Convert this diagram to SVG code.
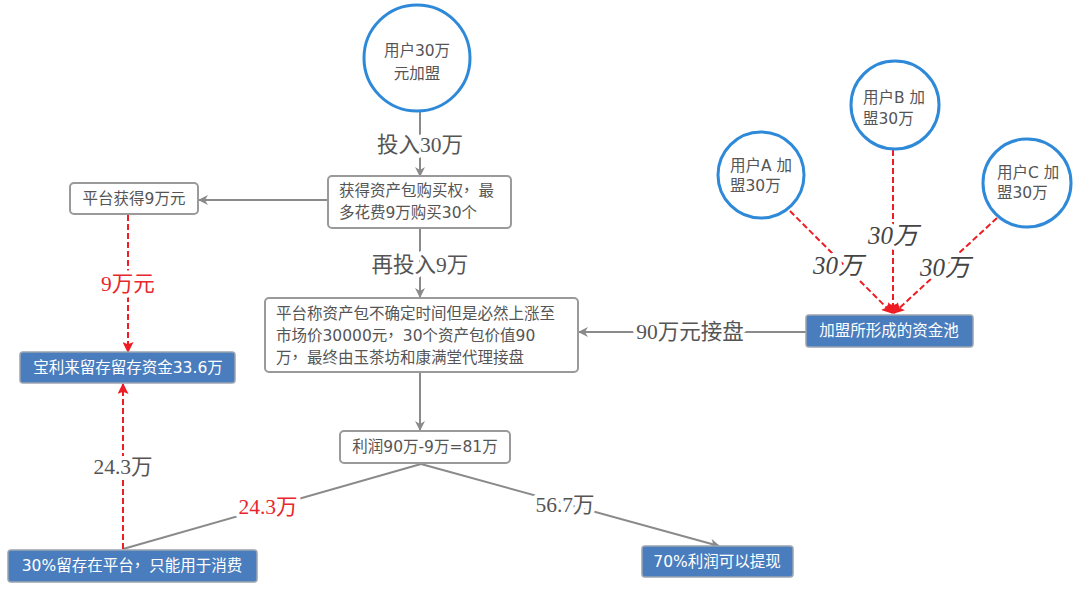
<svg xmlns="http://www.w3.org/2000/svg" width="1080" height="591" viewBox="0 0 1080 591">
<defs>
<marker id="ag" viewBox="0 0 10 10" refX="9" refY="5" markerWidth="10" markerHeight="10" markerUnits="userSpaceOnUse" orient="auto">
<path d="M0,0 L10,5 L0,10 L3,5 z" fill="#8a8a8a"/>
</marker>
<marker id="ar" viewBox="0 0 10 10" refX="9" refY="5" markerWidth="11" markerHeight="11" markerUnits="userSpaceOnUse" orient="auto">
<path d="M0,0 L10,5 L0,10 L2,5 z" fill="#ee1c24"/>
</marker>
</defs>
<style>
.c{fill:#fff;stroke:#2e8ad8;stroke-width:3}
.b{fill:#fff;stroke:#9a9a9a;stroke-width:2}
.f{fill:#4a7dbd;stroke:#9aa4b0;stroke-width:1.5}
.t{font-family:"DejaVu Sans","Noto Sans CJK SC",sans-serif;font-size:15.5px;fill:#555}
.w{font-family:"DejaVu Sans","Noto Sans CJK SC",sans-serif;font-size:15.5px;fill:#fff}
.cm{baseline-shift:5px}
.g{fill:none;stroke:#8a8a8a;stroke-width:2}
.r{fill:none;stroke:#ee1c24;stroke-width:2;stroke-dasharray:6 3}
.l{font-family:"Liberation Serif","Noto Sans CJK SC",serif;font-size:21.5px;fill:#555;stroke:#fff;stroke-width:8;paint-order:stroke;stroke-linejoin:round}
.lr{fill:#e8262c}
.i{font-style:italic;font-size:25px;fill:#444}
</style>
<g id="connectors">
<line class="g" x1="420" y1="112" x2="420" y2="176" marker-end="url(#ag)"/>
<line class="g" x1="328" y1="200" x2="199" y2="200" marker-end="url(#ag)"/>
<line class="g" x1="420" y1="228" x2="420" y2="297" marker-end="url(#ag)"/>
<line class="r" x1="128" y1="215" x2="128" y2="352" marker-end="url(#ar)"/>
<line class="g" x1="806" y1="332" x2="579" y2="332" marker-end="url(#ag)"/>
<line class="g" x1="420" y1="372" x2="420" y2="430" marker-end="url(#ag)"/>
<line class="g" x1="421" y1="464" x2="123" y2="549"/>
<line class="g" x1="421" y1="464" x2="719" y2="546" marker-end="url(#ag)"/>
<line class="r" x1="123" y1="549" x2="123" y2="384" marker-end="url(#ar)"/>
<line class="r" x1="790" y1="211" x2="892" y2="313" marker-end="url(#ar)"/>
<line class="r" x1="893" y1="150" x2="893" y2="313" marker-end="url(#ar)"/>
<line class="r" x1="997" y1="218" x2="894" y2="313" marker-end="url(#ar)"/>
<text class="l" x="420" y="152" text-anchor="middle">投入30万</text>
<text class="l" x="420" y="272" text-anchor="middle">再投入9万</text>
<text class="l lr" x="128" y="291" text-anchor="middle">9万元</text>
<text class="l" x="690" y="339" text-anchor="middle">90万元接盘</text>
<text class="l lr" x="268" y="514" text-anchor="middle">24.3万</text>
<text class="l" x="565" y="512" text-anchor="middle">56.7万</text>
<text class="l" x="123" y="474" text-anchor="middle">24.3万</text>
<text class="l i" x="838" y="274" text-anchor="middle">30万</text>
<text class="l i" x="893" y="244" text-anchor="middle">30万</text>
<text class="l i" x="945" y="276" text-anchor="middle">30万</text>
</g>
<g id="n_user">
<circle class="c" cx="417" cy="58" r="53"/>
<text class="t" x="417" y="56" text-anchor="middle">用户30万</text>
<text class="t" x="417" y="79" text-anchor="middle">元加盟</text>
</g>
<g id="n_buy">
<rect class="b" x="328" y="176" width="183" height="52" rx="4"/>
<text class="t" x="339" y="196">获得资产包购买权<tspan class="cm">，</tspan>最</text>
<text class="t" x="339" y="218">多花费9万购买30个</text>
</g>
<g id="n_platform">
<rect class="b" x="70" y="183" width="128" height="31" rx="4"/>
<text class="t" x="134" y="204" text-anchor="middle">平台获得9万元</text>
</g>
<g id="n_reserve">
<rect class="f" x="20" y="352" width="215" height="31" rx="3"/>
<text class="w" x="128" y="373" text-anchor="middle">宝利来留存留存资金33.6万</text>
</g>
<g id="n_claim">
<rect class="b" x="265" y="298" width="313" height="74" rx="4"/>
<text class="t" x="276" y="319">平台称资产包不确定时间但是必然上涨至</text>
<text class="t" x="276" y="341">市场价30000元<tspan class="cm">，</tspan>30个资产包价值90</text>
<text class="t" x="276" y="363">万<tspan class="cm">，</tspan>最终由玉茶坊和康满堂代理接盘</text>
</g>
<g id="n_profit">
<rect class="b" x="340" y="431" width="170" height="32" rx="4"/>
<text class="t" x="425" y="452" text-anchor="middle">利润90万-9万=81万</text>
</g>
<g id="n_30">
<rect class="f" x="8" y="550" width="249" height="32" rx="3"/>
<text class="w" x="132" y="571" text-anchor="middle">30%留存在平台<tspan class="cm">，</tspan>只能用于消费</text>
</g>
<g id="n_70">
<rect class="f" x="642" y="546" width="151" height="31" rx="3"/>
<text class="w" x="717" y="567" text-anchor="middle">70%利润可以提现</text>
</g>
<g id="n_pool">
<rect class="f" x="806" y="315" width="167" height="32" rx="3"/>
<text class="w" x="889" y="336" text-anchor="middle">加盟所形成的资金池</text>
</g>
<g id="n_a">
<circle class="c" cx="761" cy="175" r="43"/>
<text class="t" x="730" y="171">用户A 加</text>
<text class="t" x="730" y="191">盟30万</text>
</g>
<g id="n_b">
<circle class="c" cx="895" cy="105" r="44"/>
<text class="t" x="863" y="103">用户B 加</text>
<text class="t" x="863" y="124">盟30万</text>
</g>
<g id="n_c">
<circle class="c" cx="1027" cy="183" r="44"/>
<text class="t" x="997" y="178">用户C 加</text>
<text class="t" x="997" y="198">盟30万</text>
</g>
</svg>
